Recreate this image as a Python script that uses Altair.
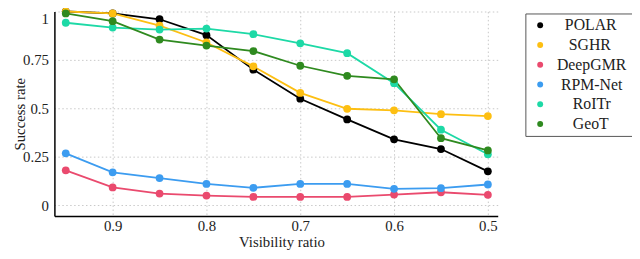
import altair as alt
import pandas as pd

visibility = [0.95, 0.9, 0.85, 0.8, 0.75, 0.7, 0.65, 0.6, 0.55, 0.5]
methods = ["POLAR", "SGHR", "DeepGMR", "RPM-Net", "RoITr", "GeoT"]
colors = ["#000000", "#FDBF12", "#EA4A6E", "#3C9CF0", "#1DD9A6", "#2F8A1F"]

polar = [1.0, 0.99, 0.96, 0.878, 0.70, 0.55, 0.443, 0.34, 0.29, 0.175]
sghr = [1.0, 0.99, 0.927, 0.84, 0.717, 0.58, 0.498, 0.49, 0.47, 0.46]
deepgmr = [0.18, 0.092, 0.06, 0.05, 0.043, 0.043, 0.043, 0.055, 0.067, 0.054]
rpmnet = [0.268, 0.17, 0.14, 0.11, 0.09, 0.11, 0.11, 0.085, 0.088, 0.107]
roitr = [0.942, 0.917, 0.907, 0.912, 0.883, 0.836, 0.785, 0.63, 0.39, 0.263]
geot = [0.99, 0.95, 0.855, 0.824, 0.796, 0.72, 0.668, 0.65, 0.346, 0.283]

x_ticks = [0.9, 0.8, 0.7, 0.6, 0.5]
y_ticks = [0, 0.25, 0.5, 0.75, 1]

series = [polar, sghr, deepgmr, rpmnet, roitr, geot]
rows = []
for m, vals in zip(methods, series):
    for xv, yv in zip(visibility, vals):
        rows.append({"method": m, "visibility": xv, "success": yv})
df = pd.DataFrame(rows)

FONT = "Liberation Serif"
TXT = "#222222"

# centre the legend labels (as in the reference) with no-break spaces;
# zero-width spaces keep Vega's trim() from removing them
NBSP = "\u00a0"
ZW = "\u200b"
lead_pad = [2, 3, 0, 1, 4, 4]
trail_pad = [2, 2, 0, 2, 2, 2]
expr = "datum.label"
for m, a, b in zip(reversed(methods), reversed(lead_pad), reversed(trail_pad)):
    txt = ZW + NBSP * a + m + NBSP * b + ZW
    expr = f"datum.label == '{m}' ? '{txt}' : ({expr})"

color = alt.Color(
    "method:N",
    scale=alt.Scale(domain=methods, range=colors),
    sort=methods,
    legend=alt.Legend(
        title=None,
        orient="none",
        legendX=477,
        legendY=2,
        symbolType="circle",
        symbolSize=36,
        symbolStrokeWidth=0,
        symbolOffset=3,
        labelFont=FONT,
        labelFontSize=16,
        labelColor=TXT,
        labelAlign="left",
        labelOffset=9,
        labelExpr=expr,
        rowPadding=4.0,
        padding=4,
        strokeColor="#555555",
        fillColor="white",
        cornerRadius=0,
    ),
)

x = alt.X(
    "visibility:Q",
    scale=alt.Scale(domain=[0.4895, 0.9621], reverse=True, nice=False, zero=False),
    axis=alt.Axis(
        values=x_ticks,
        format=".1f",
        title="Visibility ratio",
        titleX=230,
        titleY=31,
        titleAlign="center",
        titleBaseline="alphabetic",
        labelPadding=3,
        labelFont=FONT,
        labelFontSize=15,
        labelColor=TXT,
        titleFont=FONT,
        titleFontSize=15,
        titleFontWeight="normal",
        titleColor=TXT,
    ),
)
y = alt.Y(
    "success:Q",
    scale=alt.Scale(domain=[-0.055, 1.0], nice=False, zero=False),
    axis=alt.Axis(
        values=y_ticks,
        labelExpr="'' + datum.value",
        labelFlush=True,
        title="Success rate",
        titleX=-30,
        titleAngle=270,
        titleAlign="center",
        titleBaseline="alphabetic",
        labelPadding=6,
        labelFont=FONT,
        labelFontSize=15,
        labelColor=TXT,
        titleFont=FONT,
        titleFontSize=15,
        titleFontWeight="normal",
        titleColor=TXT,
    ),
)

lines = alt.Chart(df).mark_line(strokeWidth=1.8).encode(x=x, y=y, color=color, detail="method:N")
points = alt.Chart(df).mark_point(filled=True, size=62, opacity=1).encode(x=x, y=y, color=color)

chart = (
    alt.layer(lines, points)
    .properties(
        width=449,
        height=207,
        autosize=alt.AutoSizeParams(type="none"),
        padding={"left": 47, "top": 2, "right": 136, "bottom": 34},
    )
    .configure_view(stroke=None)
    .configure_axis(
        domainColor="#000000",
        domainWidth=1.5,
        ticks=False,
        grid=True,
        gridColor="#c8c8c8",
        gridDash=[1.5, 2.5],
        gridWidth=1,
    )
)

chart.save("out.html", embed_options={"renderer": "svg", "actions": False})
